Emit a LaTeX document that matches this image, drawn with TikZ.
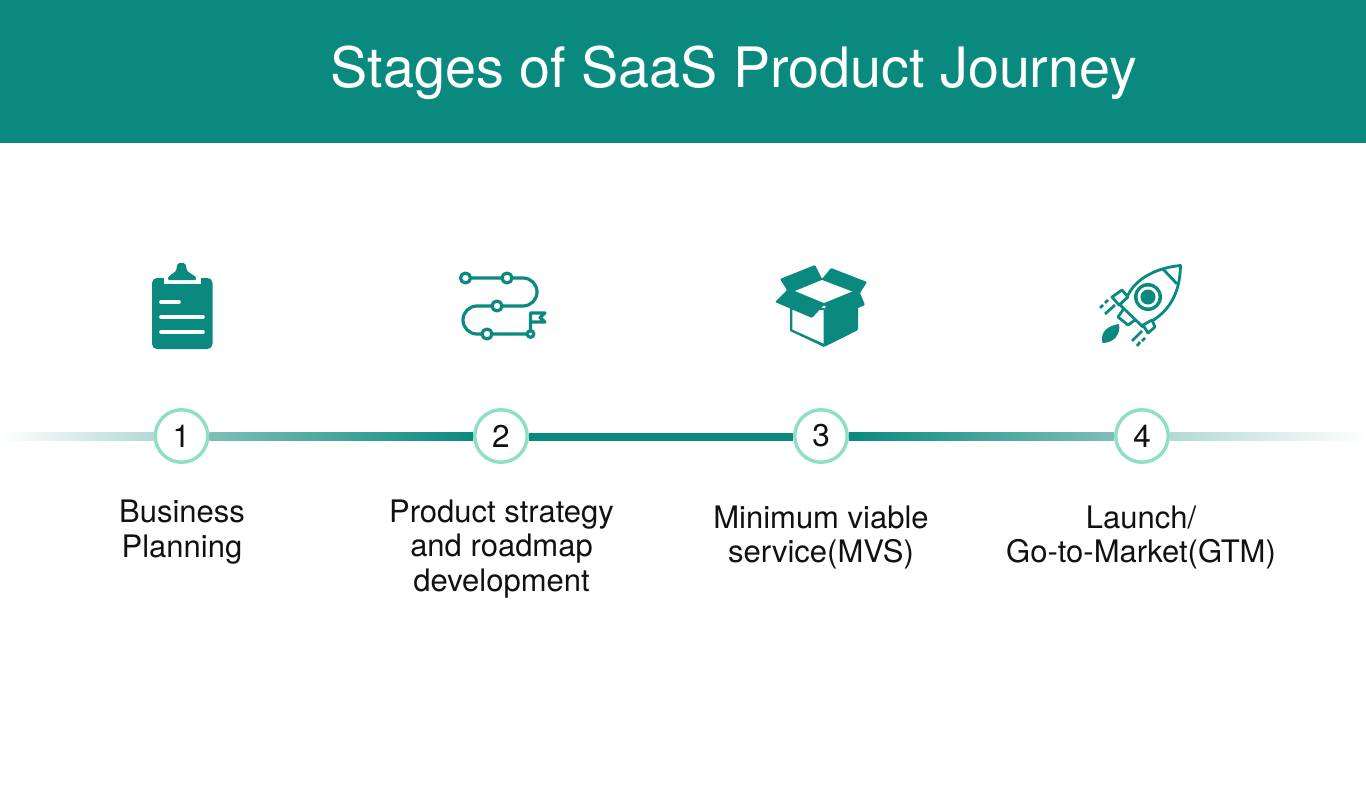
\documentclass[tikz,border=0pt]{standalone}
\usepackage{fontspec}
\setmainfont{TeX Gyre Heros}
\usetikzlibrary{calc}
\definecolor{teal1}{HTML}{0A8A7F}
\definecolor{ringc}{HTML}{8FDFC6}
\definecolor{inkc}{HTML}{111111}
\definecolor{fadeA}{HTML}{B3D9D4}
\definecolor{fadeB}{HTML}{7DBFB8}
\tikzset{
  x=1pt,y=-1pt,
  stagenum/.style={circle,draw=ringc,line width=3.4pt,fill=white,minimum size=52.5pt,inner sep=0pt,text=inkc,font=\fontsize{31.5}{33}\selectfont},
  stagelabel/.style={align=center,text=inkc,inner sep=0pt,font=\fontsize{31}{34.5}\selectfont},
  icline/.style={draw=teal1,line width=3.2pt,line cap=round,line join=round},
  rkline/.style={draw=teal1,line width=2.8pt,line join=round},
  whitebar/.style={draw=white,line width=3.6pt,line cap=round},
  speedline/.style={draw=teal1,line width=2.8pt},
}
\begin{document}
\begin{tikzpicture}
\useasboundingbox (0,0) rectangle (1366,797);
\fill[white] (0,0) rectangle (1366,797);
\fill[teal1] (0,0) rectangle (1366,143);
\node[text=white,inner sep=0pt,font=\fontsize{55.7}{60}\selectfont] (title) at (734,73) {Stages of SaaS Product Journey};
% timeline
\coordinate (lineL) at (0,436.7);
\coordinate (lineR) at (1366,436.7);
\node[stagenum] (n1) at (181.5,436) {1};
\node[stagenum] (n2) at (501,436) {2};
\node[stagenum] (n3) at (821,436) {3};
\node[stagenum] (n4) at (1142,436) {4};
\shade[left color=white,right color=fadeA] ($(lineL)+(0,-4)$) rectangle ($(n1.west)+(0,4.7)$);
\shade[left color=fadeB,right color=teal1] ($(n1.east)+(0,-3.5)$) rectangle ($(n2.west)+(0,4.7)$);
\fill[teal1] ($(n2.east)+(0,-3.5)$) rectangle ($(n3.west)+(0,4.7)$);
\shade[left color=teal1,right color=fadeB] ($(n3.east)+(0,-3.5)$) rectangle ($(n4.west)+(0,4.7)$);
\shade[left color=fadeA,right color=white] ($(n4.east)+(0,-3.5)$) rectangle ($(lineR)+(0,4)$);
% labels
\node[stagelabel] (l1) at (182,532) {Business\\Planning};
\node[stagelabel] (l2) at (501.5,549) {Product strategy\\and roadmap\\development};
\node[stagelabel] (l3) at (821,537.5) {Minimum viable\\service(MVS)};
\node[stagelabel] (l4) at (1141,537.5) {Launch/\\Go-to-Market(GTM)};
% clipboard icon
\fill[teal1,rounded corners=5pt] (152,278) rectangle (212.5,349);
\fill[white] (164,276) rectangle (201,283.5);
\fill[teal1,rounded corners=1pt] (168,280) -- (168,277) -- (176,271) -- (177,266) .. controls (178,262) and (185,262) .. (186,266) -- (187,271) -- (196,277) -- (196,280) -- cycle;
\draw[whitebar] (161,302) -- (179,302);
\draw[whitebar] (161,317) -- (203,317);
\draw[whitebar] (161,332) -- (203,332);
% roadmap icon
\draw[icline] (465.5,278) -- (523,278) arc[start angle=-90,end angle=90,radius=14] -- (477,306) arc[start angle=270,end angle=90,radius=14] -- (530.5,334);
\foreach \px/\py/\pr in {465.5/278/5,507/278/5,497/306/5,487/334/5,530.5/334/3.3}
  \draw[icline,fill=white] (\px,\py) circle[radius=\pr];
\draw[icline] (530.5,331) -- (530.5,313) -- (545,313) -- (540,317.5) -- (545,322) -- (530.5,322);
% box icon
\fill[teal1,rounded corners=1pt] (824,308) -- (858,295) -- (858,330) -- (824,347) -- cycle;
\fill[teal1] (790,308) -- (824,308) -- (824,347) -- (790,331) -- cycle;
\fill[white] (792.4,310) -- (823.5,310) -- (823.5,343.5) -- (792.4,329.5) -- cycle;
\fill[teal1,rounded corners=1pt] (780,279) -- (815,265) -- (822,279) -- (831,268) -- (867,282) -- (860,293) -- (865,305) -- (837,317) -- (824,305) -- (812,318) -- (775,302) -- (787,290) -- cycle;
\fill[white] (822,280) -- (852,291.5) -- (824,303) -- (795,291) -- cycle;
% rocket icon
\draw[speedline] (1100,308) -- (1103,305);
\draw[speedline] (1105,303) -- (1108,300);
\draw[speedline] (1105,314) -- (1115,305);
\draw[speedline] (1132,341) -- (1142,331);
\draw[speedline] (1137,346) -- (1140,342);
\draw[speedline] (1142,341) -- (1145,338);
\fill[teal1] (1102.5,343) .. controls (1100,332) and (1107,326) .. (1119,324) .. controls (1121,334) and (1114,343) .. (1102.5,343) -- cycle;
\draw[rkline,fill=white] (1125,307) -- (1118,317) -- (1128,325) -- (1138,318) -- cycle;
\draw[rkline,fill=white] (1180.5,265.5) .. controls (1155,268) and (1136,279) .. (1128,295)
  -- (1120,305) -- (1143,327) -- (1152,321) .. controls (1168,311) and (1180,295) .. (1180.5,265.5) -- cycle;
\draw[rkline] (1163,269) -- (1177,284);
\draw[rkline,fill=white] (1128,297) -- (1122,290) -- (1112,297) -- (1119,305) -- cycle;
\draw[rkline,fill=white] (1143,325) -- (1152,320) -- (1155,327) -- (1148,333) -- cycle;
\fill[teal1] (1148,297) circle[radius=14];
\fill[white] (1148,297) circle[radius=10.5];
\fill[teal1] (1148,297) circle[radius=7.5];
\end{tikzpicture}
\end{document}
